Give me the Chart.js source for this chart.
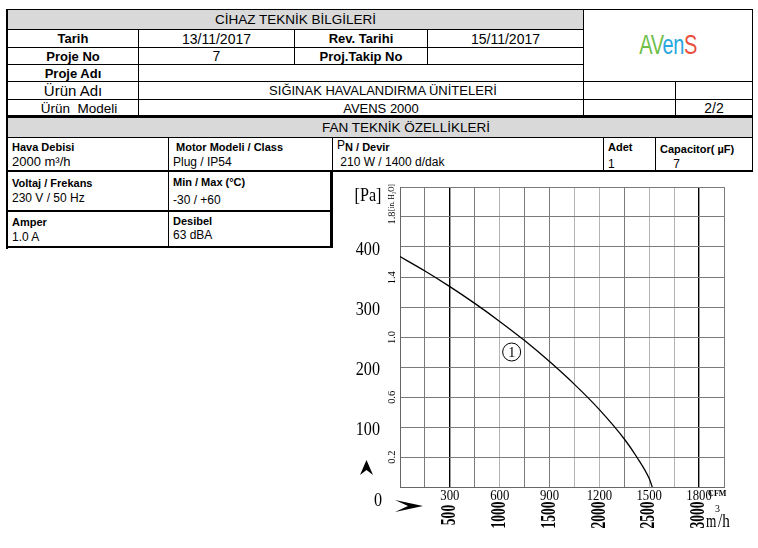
<!DOCTYPE html>
<html>
<head>
<meta charset="utf-8">
<script src="https://cdn.jsdelivr.net/npm/chart.js@4.4.0/dist/chart.umd.min.js"></script>
<style>
body{margin:0;background:#fff;width:758px;height:548px;position:relative;overflow:hidden;font-family:'Liberation Sans',Arial,sans-serif;color:#000;}
.c{position:absolute;box-sizing:border-box;border:1px solid #000;display:flex;align-items:center;justify-content:center;font-size:13px;white-space:nowrap;}
.g{background:#d9d9d9;font-size:13.5px;}
.b{font-weight:bold;}
.d{font-size:14px;}
.f{display:block;padding-left:4px;}
.f .l{font-weight:bold;font-size:11px;line-height:14px;}
.f .v{font-size:12px;line-height:16px;}
.hl{position:absolute;background:#000;}
.logo{font-size:27px;display:inline-block;transform:scaleX(0.74);letter-spacing:-0.5px;}
#chartBox{position:absolute;left:338px;top:176px;width:420px;height:366px;}
</style>
</head>
<body>
<div id="chartBox"><canvas id="fanChart" width="420" height="366"></canvas></div>
<script>
// Fan eğrisi (okunan değerler)
const cfm = [0, 150, 300, 450, 600, 750, 900, 1050, 1200, 1350, 1425, 1500, 1518];
const pa = [384, 360, 334, 306, 276, 244, 209, 171, 129, 80, 50, 14, 0];

// Eksen etiketleri
const paTicks = [100, 200, 300, 400];
const inh2oTicks = [0.2, 0.6, 1.0, 1.4, 1.8];
const cfmTicks = [300, 600, 900, 1200, 1500, 1800];
const m3hTicks = [500, 1000, 1500, 2000, 2500, 3000];
const PA_PER_INH2O = 249.09;

// Izgara çizgileri renkleri
const blackLines = [300, 1800];
const lightLines = [600, 1050, 1200, 1500, 1650];

// Tablo hücreleri: x0, y0, x1, y1, içerik, sınıf
const cells = [
    [7, 9, 583, 29, 'CİHAZ TEKNİK BİLGİLERİ', 'g'],
    [583, 9, 752, 81, '<span class="logo"><span style="color:#6dbf47">AV</span><span style="color:#29a6de">en</span><span style="color:#e9503e">S</span></span>', ''],
    [7, 29, 138, 47, 'Tarih', 'b'],
    [138, 29, 294, 47, '13/11/2017', 'd'],
    [294, 29, 427, 47, 'Rev. Tarihi', 'b'],
    [427, 29, 583, 47, '15/11/2017', 'd'],
    [7, 47, 138, 64, 'Proje No', 'b'],
    [138, 47, 294, 64, '7', 'd'],
    [294, 47, 427, 64, 'Proj.Takip No', 'b'],
    [427, 47, 583, 64, '', ''],
    [7, 64, 138, 81, 'Proje Adı', 'b'],
    [138, 64, 583, 81, '', ''],
    [7, 81, 138, 99, '<span style="font-size:15px">Ürün Adı</span>', ''],
    [138, 81, 583, 99, '<span style="padding-left:44px">SIĞINAK HAVALANDIRMA ÜNİTELERİ</span>', ''],
    [583, 81, 675, 99, '', ''],
    [675, 81, 752, 99, '', ''],
    [7, 99, 138, 116, '<span style="font-size:13.5px;padding-left:12px">Ürün&nbsp; Modeli</span>', ''],
    [138, 99, 583, 116, '<span style="padding-left:40px">AVENS 2000</span>', ''],
    [583, 99, 675, 116, '', ''],
    [675, 99, 752, 116, '2/2', 'd'],
    [7, 117, 752, 137, '<span style="padding-left:52px">FAN TEKNİK ÖZELLİKLERİ</span>', 'g'],
    [7, 137, 168, 171, '<div class="l" style="margin-top:2px">Hava Debisi</div><div class="v" style="font-size:13px">2000 m³/h</div>', 'f'],
    [168, 137, 332, 171, '<div class="l" style="margin-top:2px">&nbsp;Motor Modeli / Class</div><div class="v">Plug / IP54</div>', 'f'],
    [332, 137, 603, 171, '<div class="l" style="margin-top:0px"><span style="font-weight:normal;font-size:12px;vertical-align:2px">P</span>N / Devir</div><div class="v">&nbsp;210 W / 1400 d/dak</div>', 'f'],
    [603, 137, 655, 171, '<div class="l" style="margin-top:2px">Adet</div><div class="v" style="margin-top:2px">1</div>', 'f'],
    [655, 137, 752, 171, '<div class="l" style="margin-top:4px">Capacitor( µF)</div><div class="v">&nbsp;&nbsp;&nbsp;&nbsp;7</div>', 'f'],
    [7, 171, 168, 211, '<div class="l" style="margin-top:4px">Voltaj / Frekans</div><div class="v">230 V / 50 Hz</div>', 'f'],
    [168, 171, 332, 211, '<div class="l" style="margin-top:3px">Min / Max (°C)</div><div class="v" style="margin-top:3px">-30 / +60</div>', 'f'],
    [7, 211, 168, 247, '<div class="l" style="margin-top:3px">Amper</div><div class="v">1.0 A</div>', 'f'],
    [168, 211, 332, 247, '<div class="l" style="margin-top:2px">Desibel</div><div class="v" style="margin-top:-1px">63 dBA</div>', 'f']
];

cells.forEach(([x0, y0, x1, y1, html, cls]) => {
    const d = document.createElement('div');
    d.className = 'c ' + cls;
    d.style.left = x0 + 'px';
    d.style.top = y0 + 'px';
    d.style.width = (x1 - x0 + 1) + 'px';
    d.style.height = (y1 - y0 + 1) + 'px';
    d.innerHTML = html;
    document.body.appendChild(d);
});

// kalın çizgiler
[[7, 115, 746, 2], [7, 170, 746, 2], [7, 210, 326, 2], [7, 246, 326, 2], [330, 170, 2, 78], [6, 9, 2, 240]].forEach(([x, y, w, h]) => {
    const d = document.createElement('div');
    d.className = 'hl';
    d.style.cssText = `left:${x}px;top:${y}px;width:${w}px;height:${h}px`;
    document.body.appendChild(d);
});

function squeezed(ctx, txt, px, py, sx, rot) {
    ctx.save();
    ctx.translate(px, py);
    if (rot) ctx.rotate(rot);
    ctx.scale(sx, 1);
    ctx.fillText(txt, 0, 0);
    ctx.restore();
}

// Eksen yazıları ve oklar
const axisText = {
    id: 'axisText',
    afterDraw(chart) {
        const ctx = chart.ctx;
        const x = chart.scales.x, y = chart.scales.y;
        const left = x.left, bottom = y.bottom, top = y.top;
        ctx.save();
        ctx.fillStyle = '#000';

        // Pa
        ctx.font = '19px "Liberation Serif"';
        ctx.textAlign = 'right';
        ctx.textBaseline = 'middle';
        paTicks.forEach(v => squeezed(ctx, String(v), left - 20, y.getPixelForValue(v) + 3, 0.85));
        squeezed(ctx, '0', left - 18, bottom + 14, 0.85);
        ctx.textAlign = 'center';
        squeezed(ctx, '[Pa]', left - 32, top + 9, 0.85);

        // in. H2O
        ctx.font = '11px "Liberation Serif"';
        inh2oTicks.forEach(v => squeezed(ctx, v.toFixed(1), left - 8, y.getPixelForValue(v * PA_PER_INH2O), 0.95, -Math.PI / 2));
        ctx.textAlign = 'left';
        ctx.font = '8px "Liberation Serif"';
        squeezed(ctx, '[in. H₂O]', left - 8, y.getPixelForValue(1.8 * PA_PER_INH2O) - 7, 0.9, -Math.PI / 2);

        // CFM
        ctx.textAlign = 'center';
        ctx.font = '15px "Liberation Serif"';
        cfmTicks.forEach(v => squeezed(ctx, String(v), x.getPixelForValue(v), bottom + 9, 0.85));
        ctx.textAlign = 'left';
        ctx.font = 'bold 9px "Liberation Serif"';
        squeezed(ctx, 'CFM', x.getPixelForValue(1800) + 9, bottom + 7, 0.9);

        // m3/h
        ctx.textAlign = 'center';
        ctx.font = 'bold 20px "Liberation Serif"';
        cfmTicks.forEach((v, i) => squeezed(ctx, String(m3hTicks[i]), x.getPixelForValue(v), bottom + 28, 0.68, -Math.PI / 2));
        const xe = x.getPixelForValue(1800);
        ctx.textAlign = 'left';
        ctx.textBaseline = 'alphabetic';
        ctx.font = '19px "Liberation Serif"';
        squeezed(ctx, 'm', xe + 7, bottom + 40, 0.7);
        squeezed(ctx, '/h', xe + 19, bottom + 40, 0.8);
        ctx.font = '11px "Liberation Serif"';
        squeezed(ctx, '3', xe + 16, bottom + 25, 0.9);

        // eğri numarası
        const cx = x.getPixelForValue(672), cy = y.getPixelForValue(225);
        ctx.lineWidth = 1;
        ctx.strokeStyle = '#000';
        ctx.beginPath();
        ctx.arc(cx, cy, 9, 0, Math.PI * 2);
        ctx.stroke();
        ctx.textAlign = 'center';
        ctx.textBaseline = 'middle';
        ctx.font = '14px "Liberation Serif"';
        ctx.fillText('1', cx, cy + 1);

        // oklar
        ctx.beginPath();
        ctx.moveTo(left - 33.5, bottom - 27);
        ctx.lineTo(left - 27, bottom - 12);
        ctx.lineTo(left - 33.5, bottom - 17);
        ctx.lineTo(left - 40, bottom - 12);
        ctx.closePath();
        ctx.fill();
        ctx.beginPath();
        ctx.moveTo(left + 23, bottom + 19);
        ctx.lineTo(left - 5, bottom + 13);
        ctx.lineTo(left + 8, bottom + 19);
        ctx.lineTo(left - 5, bottom + 25);
        ctx.closePath();
        ctx.fill();
        ctx.restore();
    }
};

const ctx = document.getElementById('fanChart').getContext('2d');
const fanChart = new Chart(ctx, {
    type: 'line',
    data: {
        datasets: [{
            data: cfm.map((v, i) => ({ x: v, y: pa[i] })),
            borderColor: '#000',
            borderWidth: 1.3,
            pointRadius: 0,
            cubicInterpolationMode: 'monotone',
            fill: false
        }]
    },
    options: {
        responsive: false,
        animation: false,
        layout: { padding: { left: 62, top: 11, right: 34, bottom: 55 } },
        plugins: { legend: { display: false }, tooltip: { enabled: false } },
        scales: {
            x: {
                type: 'linear',
                min: 0,
                max: 1950,
                ticks: { display: false, stepSize: 150 },
                grid: {
                    drawTicks: false,
                    color: c => blackLines.includes(c.tick.value) ? '#000' : (lightLines.includes(c.tick.value) ? '#b4b4b4' : '#7a7a7a'),
                    lineWidth: c => blackLines.includes(c.tick.value) ? 1.4 : 1
                },
                border: { color: '#666' }
            },
            y: {
                type: 'linear',
                min: 0,
                max: 500,
                ticks: { display: false, stepSize: 50 },
                grid: { drawTicks: false, color: '#7a7a7a' },
                border: { color: '#666' }
            }
        }
    },
    plugins: [axisText]
});
</script>
</body>
</html>
